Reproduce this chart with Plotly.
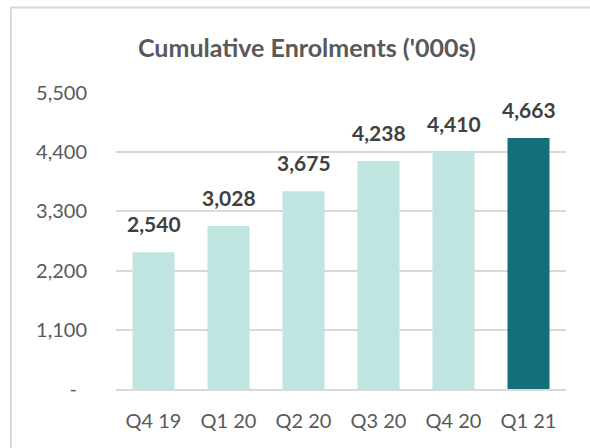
import plotly.graph_objects as go

categories = ["Q4 19", "Q1 20", "Q2 20", "Q3 20", "Q4 20", "Q1 21"]
enrolments = [2540, 3028, 3675, 4238, 4410, 4663]
bar_colors = ["#c0e4e0", "#c0e4e0", "#c0e4e0", "#c0e4e0", "#c0e4e0", "#136f7a"]
tick_vals = [0, 1100, 2200, 3300, 4400, 5500]
tick_text = ["-\u2002", "1,100", "2,200", "3,300", "4,400", "5,500"]
title_text = "Cumulative Enrolments ('000s)"

FONT = "Lato"

fig = go.Figure(
    go.Bar(
        x=categories,
        y=enrolments,
        marker=dict(color=bar_colors, line=dict(width=0)),
        width=0.56,
        hoverinfo="skip",
    )
)

for c, v in zip(categories, enrolments):
    fig.add_annotation(
        x=c, y=v, xref="x", yref="y",
        text=f"<b>{v:,}</b>",
        showarrow=False, yanchor="bottom", yshift=14,
        font=dict(family=FONT, size=21, color="#404040"),
    )

fig.add_annotation(
    x=0.424, y=1.154, xref="paper", yref="paper",
    text=f"<b>{title_text}</b>", showarrow=False,
    xanchor="center", yanchor="middle",
    font=dict(family=FONT, size=25, color="#595959"),
)

# outer chart frame
fig.add_shape(
    type="rect", xref="paper", yref="paper",
    x0=-0.2333, x1=1.3, y0=-0.4, y1=1.289,
    line=dict(color="#d9d9d9", width=2), fillcolor="rgba(0,0,0,0)", layer="below",
)

fig.update_layout(
    width=590, height=448,
    margin=dict(l=116, r=24, t=93, b=59),
    paper_bgcolor="white", plot_bgcolor="white",
    showlegend=False,
    bargap=0.44,
    font=dict(family=FONT, color="#595959"),
)
fig.update_xaxes(
    showline=True, linecolor="#d9d9d9", linewidth=2,
    ticks="", showgrid=False,
    tickfont=dict(family=FONT, size=20, color="#595959"),
    ticklabelstandoff=13,
)
fig.update_yaxes(
    range=[0, 5500], tickvals=tick_vals, ticktext=tick_text,
    showgrid=True, gridcolor="#d9d9d9", gridwidth=1.5,
    zeroline=False, showline=False, ticks="",
    tickfont=dict(family=FONT, size=20, color="#595959"),
    ticklabelstandoff=28,
)

fig.write_html(
    "out.html",
    config={"displayModeBar": False},
    post_script="document.body.style.margin='0px';",
)
